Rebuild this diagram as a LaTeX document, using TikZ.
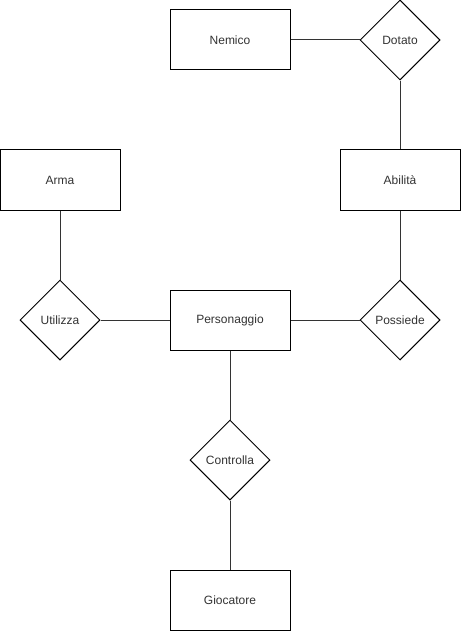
\documentclass[tikz,border=0pt]{standalone}
\usepackage{fontspec}
\setmainfont{Liberation Sans}
\usetikzlibrary{shapes.geometric}
\begin{document}
\begin{tikzpicture}[x=1pt,y=-1pt,
  every node/.style={font=\fontsize{12}{14}\selectfont, text=black!80},
  entity/.style={draw=black, line width=1pt, fill=white, minimum width=120pt, minimum height=60pt, inner sep=0pt},
  relation/.style={draw=black, line width=1pt, fill=white, diamond, aspect=1, minimum width=80pt, minimum height=80pt, inner sep=0pt},
  link/.style={draw=black!80, line width=1pt}]
\useasboundingbox[fill=white] (0,0) rectangle (461,631);
\node[entity] (nemico) at (230,40) {Nemico};
\node[relation] (dotato) at (400,40) {Dotato};
\node[entity] (arma) at (60,180) {Arma};
\node[entity] (abilita) at (400,180) {Abilità};
\node[relation] (utilizza) at (60,320) {Utilizza};
\node[entity] (pers) at (230,320) {Personaggio};
\node[relation] (possiede) at (400,320) {Possiede};
\node[relation] (controlla) at (230,460) {Controlla};
\node[entity] (gioc) at (230,600) {Giocatore};
\draw[link] (nemico) -- (dotato);
\draw[link] (dotato) -- (abilita);
\draw[link] (arma) -- (utilizza);
\draw[link] (utilizza) -- (pers);
\draw[link] (abilita) -- (possiede);
\draw[link] (pers) -- (possiede);
\draw[link] (pers) -- (controlla);
\draw[link] (controlla) -- (gioc);
\end{tikzpicture}
\end{document}
